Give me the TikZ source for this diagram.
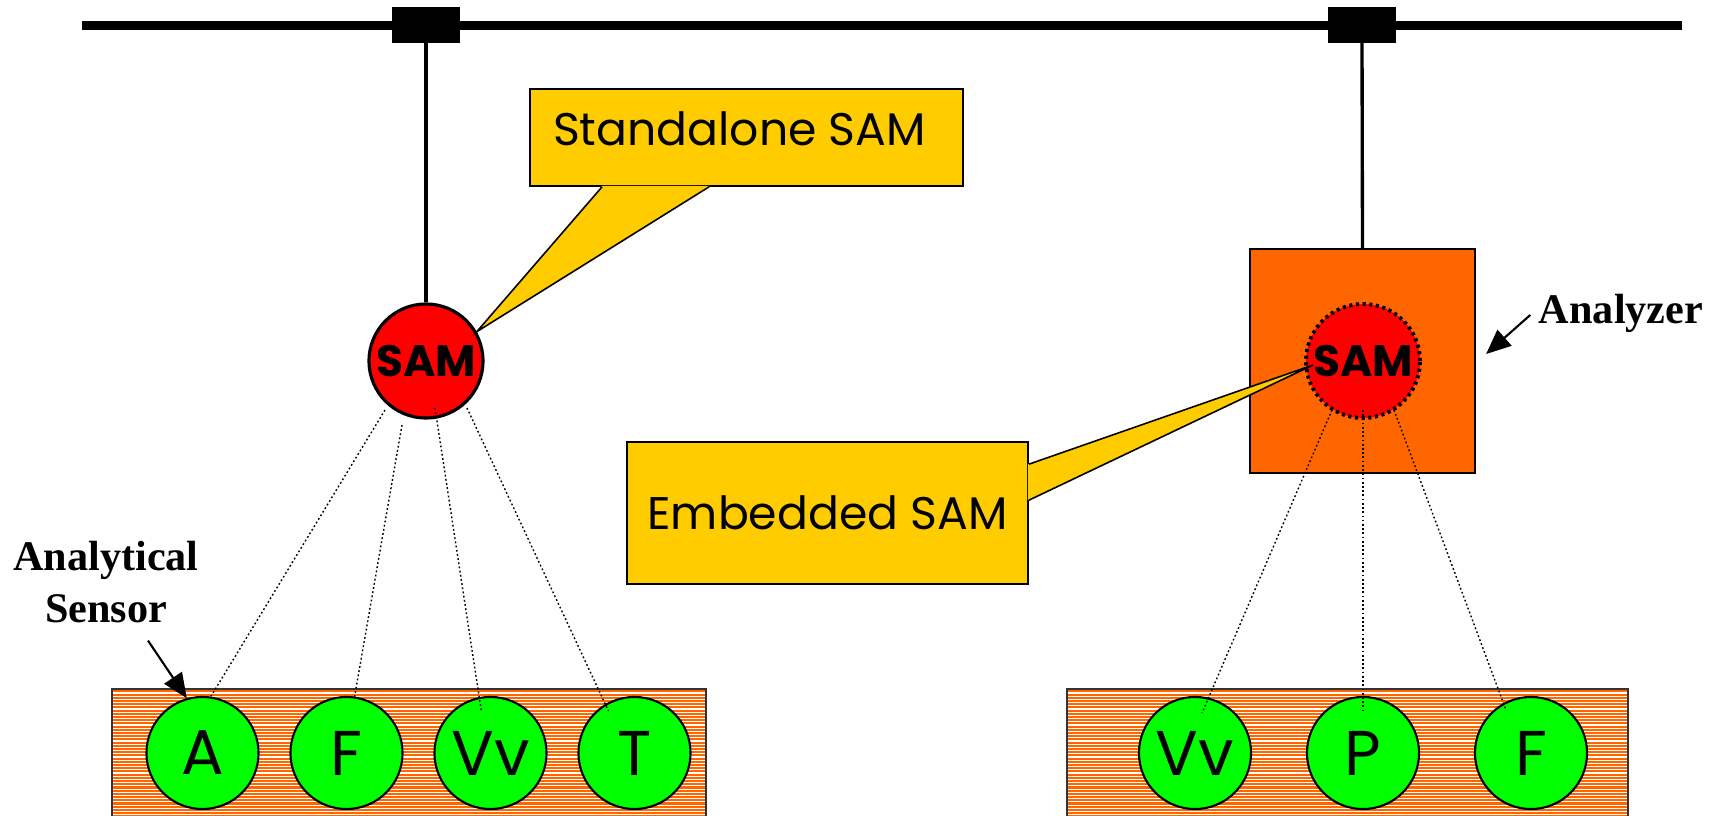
\documentclass[tikz,border=0pt]{standalone}
\usepackage{fontspec}
\setmainfont{Poppins}
\newfontfamily\labelfont{Liberation Serif}
\usetikzlibrary{arrows.meta,calc}

\definecolor{samred}{HTML}{FF0000}
\definecolor{boxorange}{HTML}{FF6600}
\definecolor{calloutyellow}{HTML}{FFCC00}
\definecolor{sensorgreen}{HTML}{00FF00}

\tikzset{
  bus/.style={line width=2.3pt},
  tap/.style={fill=black, draw=black, minimum width=0.66cm, minimum height=0.34cm, inner sep=0pt},
  stem/.style={line width=0.95pt},
  sam/.style={circle, fill=samred, draw=black, line width=0.9pt, minimum size=1.14cm, inner sep=0pt,
    font=\fontsize{12.5}{15}\selectfont\bfseries},
  embsam/.style={sam, line width=1.1pt, dash pattern=on 0.9pt off 1pt},
  analyzer/.style={fill=boxorange, draw=black, line width=0.6pt, minimum width=2.25cm, minimum height=2.24cm, inner sep=0pt},
  strip/.style={fill=boxorange, draw=black!80, line width=0.5pt, minimum height=1.31cm, inner sep=0pt,
    path picture={\foreach \k in {0,...,40}
      \draw[white, line width=0.3pt] ([yshift=-0.4mm-\k*0.32mm]path picture bounding box.north west)
        -- ([yshift=-0.4mm-\k*0.32mm]path picture bounding box.north east);}},
  sensor/.style={circle, fill=sensorgreen, draw=black, line width=0.6pt, minimum size=1.12cm, inner sep=0pt,
    font=\fontsize{18}{20}\selectfont},
  probe/.style={line width=0.4pt, dash pattern=on 0.5pt off 0.7pt},
  callbox/.style={fill=calloutyellow, draw=black, line width=0.45pt, inner sep=0pt,
    font=\fontsize{13}{16}\selectfont},
  callfill/.style={fill=calloutyellow},
  callline/.style={line width=0.45pt, line join=miter},
  tag/.style={font=\labelfont\bfseries\fontsize{12}{14.8}\selectfont, align=center, inner sep=0pt},
  tagarrow/.style={line width=0.6pt, -{Triangle[length=7pt,width=6pt]}},
}

\begin{document}
\begin{tikzpicture}[x=0.01cm, y=-0.01cm]
  \useasboundingbox (0,0) rectangle (1724,815);

  % network bus
  \coordinate (busW) at (82,25.5);
  \coordinate (busE) at (1682,25.5);
  \draw[bus] (busW) -- (busE);
  \node[tap] (tapL) at (426,25) {};
  \node[tap] (tapR) at (1362,25) {};

  % analyzer with embedded SAM, standalone SAM
  \node[analyzer] (anlz) at (1362.5,361) {};
  \node[embsam] (samR) at (1363,361) {SAM};
  \node[sam] (samL) at (426,361) {SAM};
  \draw[stem] (tapL.south) -- (samL.north);
  \draw[stem] (tapR.south) -- (anlz.north);

  % sensor strips
  \node[strip, minimum width=5.94cm] (stripL) at (409,754.5) {};
  \node[strip, minimum width=5.61cm] (stripR) at (1347.5,754.5) {};
  \node[sensor] (sA) at (202.5,753) {A};
  \node[sensor] (sF) at (346.5,753) {F};
  \node[sensor] (sVv) at (490.5,753) {Vv};
  \node[sensor] (sT) at (634.5,753) {T};
  \node[sensor] (rVv) at (1195,753) {Vv};
  \node[sensor] (rP) at (1363,753) {P};
  \node[sensor] (rF) at (1531,753) {F};

  \draw[probe] ($(samL)+(-41,49)$) -- ($(sA)+(8,-56)$);
  \draw[probe] ($(samL)+(-24,64)$) -- ($(sF)+(8,-56)$);
  \draw[probe] ($(samL)+(9,47)$) -- ($(sVv)+(-9,-41)$);
  \draw[probe] ($(samL)+(41,47)$) -- ($(sT)+(-26,-42)$);
  \draw[probe] ($(samR)+(-31,49)$) -- ($(rVv)+(7,-40)$);
  \draw[probe] ($(samR)+(0,49)$) -- ($(rP)+(0,-40)$);
  \draw[probe] ($(samR)+(31,49)$) -- ($(rF)+(-25,-43)$);

  % callouts
  \node[callbox, minimum width=4.33cm, minimum height=0.97cm] (stand) at (746.5,137.5) {\raisebox{5pt}{Standalone SAM\hspace{4pt}}};
  \fill[callfill] ($(stand.south west)+(73,-1)$) -- (samL.30) -- ($(stand.south west)+(180,-1)$) -- cycle;
  \draw[callline] ($(stand.south west)+(73,0)$) -- (samL.30) -- ($(stand.south west)+(180,0)$);

  \node[callbox, minimum width=4.01cm, minimum height=1.42cm] (emb) at (827.5,513) {Embedded SAM};
  \fill[callfill] ($(emb.north east)+(-1,23)$) -- ($(samR)+(-50,4)$) -- ($(emb.north east)+(-1,59)$) -- cycle;
  \draw[callline] ($(emb.north east)+(0,23)$) -- ($(samR)+(-50,4)$) -- ($(emb.north east)+(0,59)$);

  % labels
  \node[tag] (lblS) at (106,582) {Analytical\\Sensor};
  \draw[tagarrow] ($(lblS.south)+(42,17)$) -- (sA.106);
  \node[tag] (lblZ) at (1621,313) {Analyzer};
  \draw[tagarrow] ($(lblZ.west)+(-8,2)$) -- ($(anlz.east)+(10,-7)$);
\end{tikzpicture}
\end{document}
